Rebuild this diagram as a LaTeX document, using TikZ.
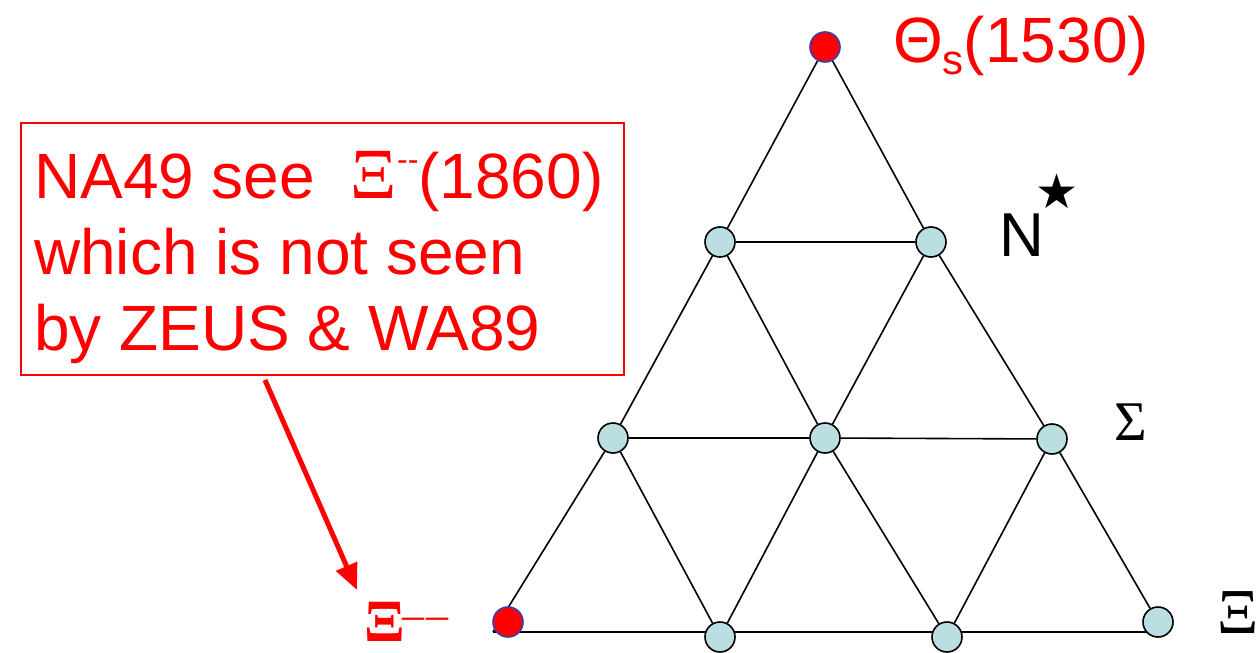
\documentclass[tikz,border=0pt]{standalone}
\usepackage{fontspec}
\setmainfont{Liberation Sans}
\newfontfamily\serifx{Liberation Serif}
\newfontfamily\dejavu{DejaVu Sans}
\usetikzlibrary{arrows.meta,backgrounds}
\definecolor{nodeteal}{RGB}{186,222,226}
\definecolor{nodeblue}{RGB}{60,60,170}
\newcommand\myfs[1]{\fontsize{#1}{#1}\selectfont}
\begin{document}
\begin{tikzpicture}[x=1pt,y=-1pt,
  state/.style={circle,draw=black,line width=1.6pt,fill=nodeteal,minimum size=30pt,inner sep=0pt},
  exotic/.style={circle,draw=nodeblue,line width=1.6pt,fill=red,minimum size=30pt,inner sep=0pt},
  edge/.style={draw=black,line width=1.6pt},
  lbl/.style={anchor=base west,inner sep=0pt},
  redtxt/.style={lbl,text=red,font=\myfs{64}}
]
\useasboundingbox (0,0) rectangle (1259,653);
% nodes
\node[exotic] (top) at (825,47) {};
\node[state] (a) at (720,242) {};
\node[state] (b) at (931,242) {};
\node[state] (c) at (613,438) {};
\node[state] (d) at (825,438) {};
\node[state] (e) at (1052,439) {};
\node[exotic] (bl) at (508,622) {};
\node[state] (f) at (720,637) {};
\node[state] (g) at (947,637) {};
\node[state] (br) at (1158,622) {};
\coordinate (blc) at (493,632);
\coordinate (brc) at (1150,632);
\begin{pgfonlayer}{background}
\draw[edge] (top) -- (a);
\draw[edge] (top) -- (b);
\draw[edge] (a) -- (b);
\draw[edge] (a) -- (c);
\draw[edge] (a) -- (d);
\draw[edge] (b) -- (d);
\draw[edge] (b) -- (e);
\draw[edge] (c) -- (d);
\draw[edge] (d) -- (e);
\draw[edge] (c) -- (blc);
\draw[edge] (c) -- (f);
\draw[edge] (d) -- (f);
\draw[edge] (d) -- (g);
\draw[edge] (e) -- (g);
\draw[edge] (e) -- (br);
\draw[edge] (blc) -- (brc);
\end{pgfonlayer}
% labels
\node[redtxt] (theta) at (893,62) {Θ\raisebox{-13pt}{\myfs{42}s}(1530)};
\node[lbl,font=\myfs{62}] (nlab) at (999,256) {N};
\node[lbl,font=\dejavu\myfs{48}] (star) at (1035,208) {★};
\node[lbl,font=\serifx\myfs{56}] (sigma) at (1114,440) {Σ};
\node[lbl,font=\serifx\myfs{64}] (xi) at (1217,633) {Ξ};
\node[lbl,text=red,font=\serifx\bfseries\myfs{60}] (xim) at (364,641) {Ξ};
\node[lbl,text=red,font=\serifx\myfs{44}] (dashes) at (402,629) {–\kern2pt–};
% box
\node[draw=red,line width=1.6pt,minimum width=603pt,minimum height=252pt,inner sep=0pt] (box) at (322.5,249) {};
\node[redtxt] (l1) at (34,198) {NA49 see\ \ {\serifx\myfs{72}Ξ}\raisebox{28pt}{\myfs{32}-{}-}(1860)};
\node[redtxt] (l2) at (34,274) {which is not seen};
\node[redtxt] (l3) at (34,350) {by ZEUS \& WA89};
\coordinate (as) at (265,380);
\coordinate (ae) at (357,590);
\draw[red,line width=5pt,-{Triangle[length=26pt,width=22pt]}] (as) -- (ae);
\end{tikzpicture}
\end{document}
